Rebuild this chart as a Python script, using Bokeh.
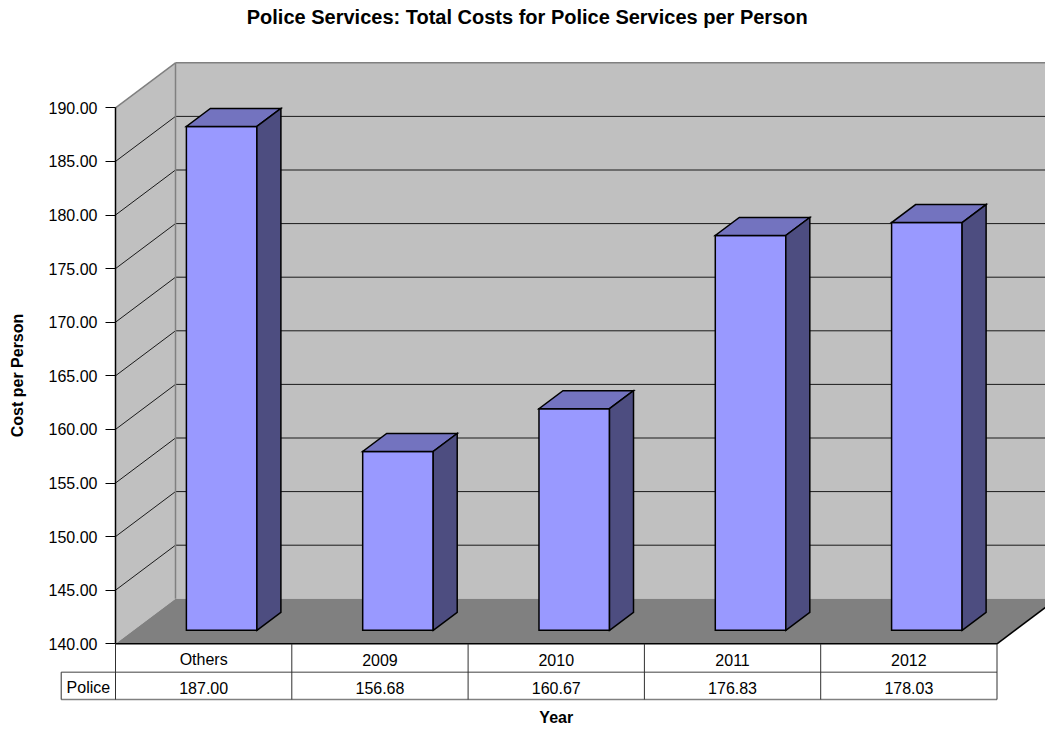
from bokeh.plotting import figure
from bokeh.models import Range1d, LinearAxis, FixedTicker, PrintfTickFormatter
from bokeh.core.properties import value
from bokeh.embed import file_html
from bokeh.resources import INLINE

# ---------------- data ----------------
categories = ["Others", "2009", "2010", "2011", "2012"]
police_costs = [187.00, 156.68, 160.67, 176.83, 178.03]
series_name = "Police"
y_ticks = [140, 145, 150, 155, 160, 165, 170, 175, 180, 185, 190]
y_min, y_max = 140, 190
title_text = "Police Services:  Total Costs for Police Services per Person"
y_label = "Cost per Person"
x_label = "Year"

# ---------------- layout geometry (pixels) ----------------
W, H = 1045, 729
PX_LEFT = 115.0     # front plane left edge
PX_CAT = 176.3      # width of one category on the front plane
PX_BASE = 643.3     # pixel row of y_min on the front plane
PX_UNIT = 10.72     # pixels per value unit
DEPTH_X, DEPTH_Y = 60.0, 45.0
DX = DEPTH_X / PX_CAT
DY = DEPTH_Y / PX_UNIT


def px_x(px):
    return (px - PX_LEFT) / PX_CAT


def px_y(py):
    return y_min + (PX_BASE - py) / PX_UNIT


FONT = value("Liberation Sans")
n = len(categories)

p = figure(width=W, height=H,
           x_range=Range1d(px_x(0), px_x(W)),
           y_range=Range1d(px_y(H), px_y(0)),
           output_backend="svg", toolbar_location=None,
           x_axis_type=None, y_axis_type=None,
           min_border=0)
p.min_border_left = 0
p.min_border_right = 0
p.min_border_top = 0
p.min_border_bottom = 0
p.outline_line_color = None
p.background_fill_color = "white"
p.border_fill_color = "white"

WALL = "#C0C0C0"
FLOOR = "#808080"

# back wall
p.patch([DX, n + DX, n + DX, DX],
        [y_min + DY, y_min + DY, y_max + DY, y_max + DY],
        fill_color=WALL, line_color=None)
# side wall
p.patch([0, DX, DX, 0],
        [y_min, y_min + DY, y_max + DY, y_max],
        fill_color=WALL, line_color=None)
# floor
p.patch([0, n, n + DX, DX],
        [y_min, y_min, y_min + DY, y_min + DY],
        fill_color=FLOOR, line_color=None)

# gridlines
grid_t = [t for t in y_ticks if t != y_min and t != y_max]
p.segment(x0=[DX] * len(grid_t), y0=[t + DY for t in grid_t],
          x1=[n + DX] * len(grid_t), y1=[t + DY for t in grid_t],
          line_color="#1a1a1a", line_width=1)
p.segment(x0=[0] * len(grid_t), y0=grid_t,
          x1=[DX] * len(grid_t), y1=[t + DY for t in grid_t],
          line_color="#1a1a1a", line_width=1)
# wall edges (gray)
p.segment(x0=[DX, 0, DX], y0=[y_max + DY, y_max, y_min + DY],
          x1=[n + DX, DX, DX], y1=[y_max + DY, y_max + DY, y_max + DY],
          line_color="#808080", line_width=1.5)

# bars
D0, D1 = 0.3, 0.7
GAP, BW = 0.3, 0.4
fx, fy, tx, ty, sx, sy = [], [], [], [], [], []
for i, v in enumerate(police_costs):
    x0 = i + GAP
    x1 = x0 + BW
    fx.append([x0 + D0 * DX, x1 + D0 * DX, x1 + D0 * DX, x0 + D0 * DX])
    fy.append([y_min + D0 * DY, y_min + D0 * DY, v + D0 * DY, v + D0 * DY])
    tx.append([x0 + D0 * DX, x1 + D0 * DX, x1 + D1 * DX, x0 + D1 * DX])
    ty.append([v + D0 * DY, v + D0 * DY, v + D1 * DY, v + D1 * DY])
    sx.append([x1 + D0 * DX, x1 + D1 * DX, x1 + D1 * DX, x1 + D0 * DX])
    sy.append([y_min + D0 * DY, y_min + D1 * DY, v + D1 * DY, v + D0 * DY])
p.patches(fx, fy, fill_color="#9999FF", line_color="black", line_width=1.5, line_join="miter")
p.patches(tx, ty, fill_color="#7373BF", line_color="black", line_width=1.5, line_join="miter")
p.patches(sx, sy, fill_color="#4D4D80", line_color="black", line_width=1.5, line_join="miter")

# floor front and right edge
p.segment(x0=[0, n], y0=[y_min, y_min], x1=[n, n + DX], y1=[y_min, y_min + DY],
          line_color="black", line_width=1.5)

# data table
row1_y = px_y(671.7)
row2_y = px_y(699.0)
cell_left = px_x(60.7)
p.segment(x0=[cell_left, cell_left], y0=[row1_y, row2_y], x1=[n, n], y1=[row1_y, row2_y],
          line_color="#808080", line_width=1.5)
p.segment(x0=list(range(n + 1)), y0=[y_min] * (n + 1),
          x1=list(range(n + 1)), y1=[row2_y] * (n + 1),
          line_color="#303030", line_width=1)
p.segment(x0=[cell_left], y0=[row1_y], x1=[cell_left], y1=[row2_y],
          line_color="#303030", line_width=1)

centers = [i + 0.5 for i in range(n)]
p.text(x=centers, y=[px_y(659)] * n, text=categories,
       text_align="center", text_baseline="middle",
       text_font=FONT, text_font_size="16px", text_color="black")
p.text(x=centers, y=[px_y(687)] * n, text=[f"{v:.2f}" for v in police_costs],
       text_align="center", text_baseline="middle",
       text_font=FONT, text_font_size="16px", text_color="black")
p.text(x=[(cell_left + 0) / 2], y=[px_y(687)], text=[series_name],
       text_align="center", text_baseline="middle",
       text_font=FONT, text_font_size="16px", text_color="black")

# axis title "Year" and chart title
p.text(x=[n / 2], y=[px_y(717)], text=[x_label],
       text_align="center", text_baseline="middle",
       text_font=FONT, text_font_size="16px", text_font_style="bold", text_color="black")
p.text(x=[px_x(529.5)], y=[px_y(16)], text=[title_text],
       text_align="center", text_baseline="middle",
       text_font=FONT, text_font_size="20px", text_font_style="bold", text_color="black")

# y axis on the front plane
yax = LinearAxis(fixed_location=0, bounds=(y_min, y_max),
                 ticker=FixedTicker(ticks=y_ticks),
                 formatter=PrintfTickFormatter(format="%.2f"),
                 axis_label=y_label)
yax.axis_line_color = "black"
yax.axis_line_width = 1.5
yax.major_tick_out = 10
yax.major_tick_in = 0
yax.minor_tick_out = 0
yax.minor_tick_in = 0
yax.major_tick_line_color = "black"
yax.major_label_standoff = 8
yax.major_label_text_font = "Liberation Sans"
yax.major_label_text_font_size = "16px"
yax.major_label_text_color = "black"
yax.axis_label_text_font = "Liberation Sans"
yax.axis_label_text_font_size = "16px"
yax.axis_label_text_font_style = "bold"
yax.axis_label_text_color = "black"
yax.axis_label_standoff = 20
p.add_layout(yax, "left")

open("out.html", "w").write(file_html(p, INLINE))
